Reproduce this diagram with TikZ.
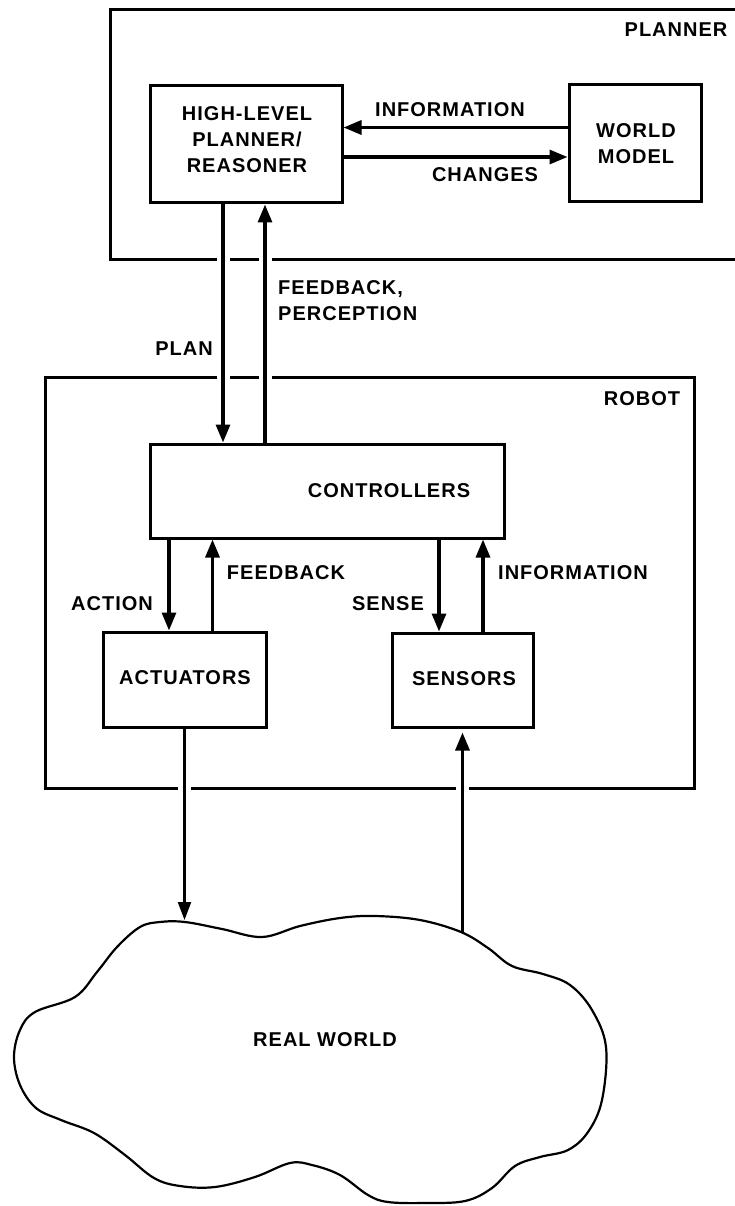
\documentclass[tikz,border=0pt]{standalone}
\usepackage{fontspec}
\newfontfamily\lblfont{Liberation Sans}[LetterSpace=5]
\usetikzlibrary{arrows.meta}
\begin{document}
\begin{tikzpicture}[x=1pt,y=-1pt,
  box/.style={draw, line width=3pt, rectangle, inner sep=0pt, anchor=center},
  lbl/.style={font=\lblfont\bfseries\fontsize{20}{26}\selectfont, inner sep=0pt, align=center},
  arr/.style={line width=3.2pt, -{Triangle[length=18pt,width=14pt]}},
  thinarr/.style={line width=2.2pt, -{Triangle[length=18pt,width=13pt]}},
  gapline/.style={draw=white, line width=13pt}]
\useasboundingbox (0,0) rectangle (734,1206);
\fill[white] (0,0) rectangle (734,1206);

% boxes
\node[box, minimum width=660pt, minimum height=249pt] (planner) at (440,134.5) {};
\node[box, minimum width=192pt, minimum height=117pt] (hl) at (246,144.5) {};
\node[box, minimum width=132pt, minimum height=117pt] (wm) at (635,143.5) {};
\node[box, minimum width=649pt, minimum height=411pt] (robot) at (369.5,582.5) {};
\node[box, minimum width=354pt, minimum height=94pt] (ctrl) at (327,491) {};
\node[box, minimum width=163pt, minimum height=95pt] (act) at (184.5,679.5) {};
\node[box, minimum width=141pt, minimum height=94pt] (sens) at (462.5,680) {};

% cloud
\draw[line width=2.2pt] plot[smooth cycle, tension=0.6] coordinates {
 (117,947) (140,927) (160,922) (185,922) (222,929) (262,937) (300,926)
 (340,918) (375,916) (420,920) (461,932) (488,948) (512,966) (543,974)
 (570,985) (592,1010) (606,1047) (602,1100) (588,1132) (568,1150)
 (540,1157) (515,1166) (492,1188) (465,1201) (425,1203) (388,1202)
 (368,1195) (340,1175) (312,1165) (290,1163) (255,1177) (215,1187)
 (180,1186) (154,1178) (125,1155) (94,1133) (61,1120) (36,1108)
 (20,1085) (14,1057) (20,1030) (35,1012) (75,997) (97,972)};
\node[lbl] (world) at (325,1040) {REAL WORLD};
\coordinate (wa) at (184.5,920);
\coordinate (ws) at (462.5,932);

% labels
\node[lbl] (plannerlbl) at (676,30) {PLANNER};
\node[lbl] (hltext) at (247,140) {HIGH-LEVEL\\PLANNER/\\REASONER};
\node[lbl] (wmtext) at (636,144) {WORLD\\MODEL};
\node[lbl] (robotlbl) at (642,399) {ROBOT};
\node[lbl] (ctrllbl) at (389,491) {CONTROLLERS};
\node[lbl] (acttext) at (185,678) {ACTUATORS};
\node[lbl] (senstext) at (464,679) {SENSORS};

\node[lbl] (infoA) at (450,110) {INFORMATION};
\node[lbl] (changes) at (485,175) {CHANGES};
\node[lbl, align=left, anchor=north west] (fbp) at (278,280) {FEEDBACK,\\PERCEPTION};
\node[lbl] (plan) at (184,349) {PLAN};
\node[lbl] (fbB) at (286,573) {FEEDBACK};
\node[lbl] (action) at (112,604) {ACTION};
\node[lbl] (sense) at (388,604) {SENSE};
\node[lbl] (infoB) at (573,573) {INFORMATION};

% arrow anchor coordinates
\coordinate (i1) at ([yshift=16pt]wm.west);
\coordinate (c1) at ([yshift=-12.5pt]hl.east);
\coordinate (p1) at ([xshift=-23pt]hl.south);
\coordinate (f1) at ([xshift=19pt]hl.south);
\coordinate (a1) at ([xshift=-15.5pt]act.north);
\coordinate (b1) at ([xshift=28pt]act.north);
\coordinate (s1) at ([xshift=-23.5pt]sens.north);
\coordinate (n1) at ([xshift=20.5pt]sens.north);

% gaps where connectors cross frame lines
\coordinate (g1) at (p1 |- planner.south);
\coordinate (g2) at (f1 |- planner.south);
\coordinate (g3) at (p1 |- robot.north);
\coordinate (g4) at (f1 |- robot.north);
\coordinate (g5) at (act.south |- robot.south);
\coordinate (g6) at (sens.south |- robot.south);
\foreach \g in {g1,g2,g3,g4,g5,g6}
  \draw[gapline] ([yshift=4pt]\g) -- ([yshift=-4pt]\g);

% connectors
\draw[arr] (i1) -- (i1 -| hl.east);
\draw[arr] (c1) -- (c1 -| wm.west);
\draw[arr] (p1) -- (p1 |- ctrl.north);
\draw[arr] (f1 |- ctrl.north) -- (f1);
\draw[arr] (a1 |- ctrl.south) -- (a1);
\draw[arr] (b1) -- (b1 |- ctrl.south);
\draw[arr] (s1 |- ctrl.south) -- (s1);
\draw[arr] (n1) -- (n1 |- ctrl.south);
\draw[thinarr] (act.south) -- (wa);
\draw[arr] (ws) -- ([yshift=-4pt]sens.south);
\end{tikzpicture}
\end{document}
